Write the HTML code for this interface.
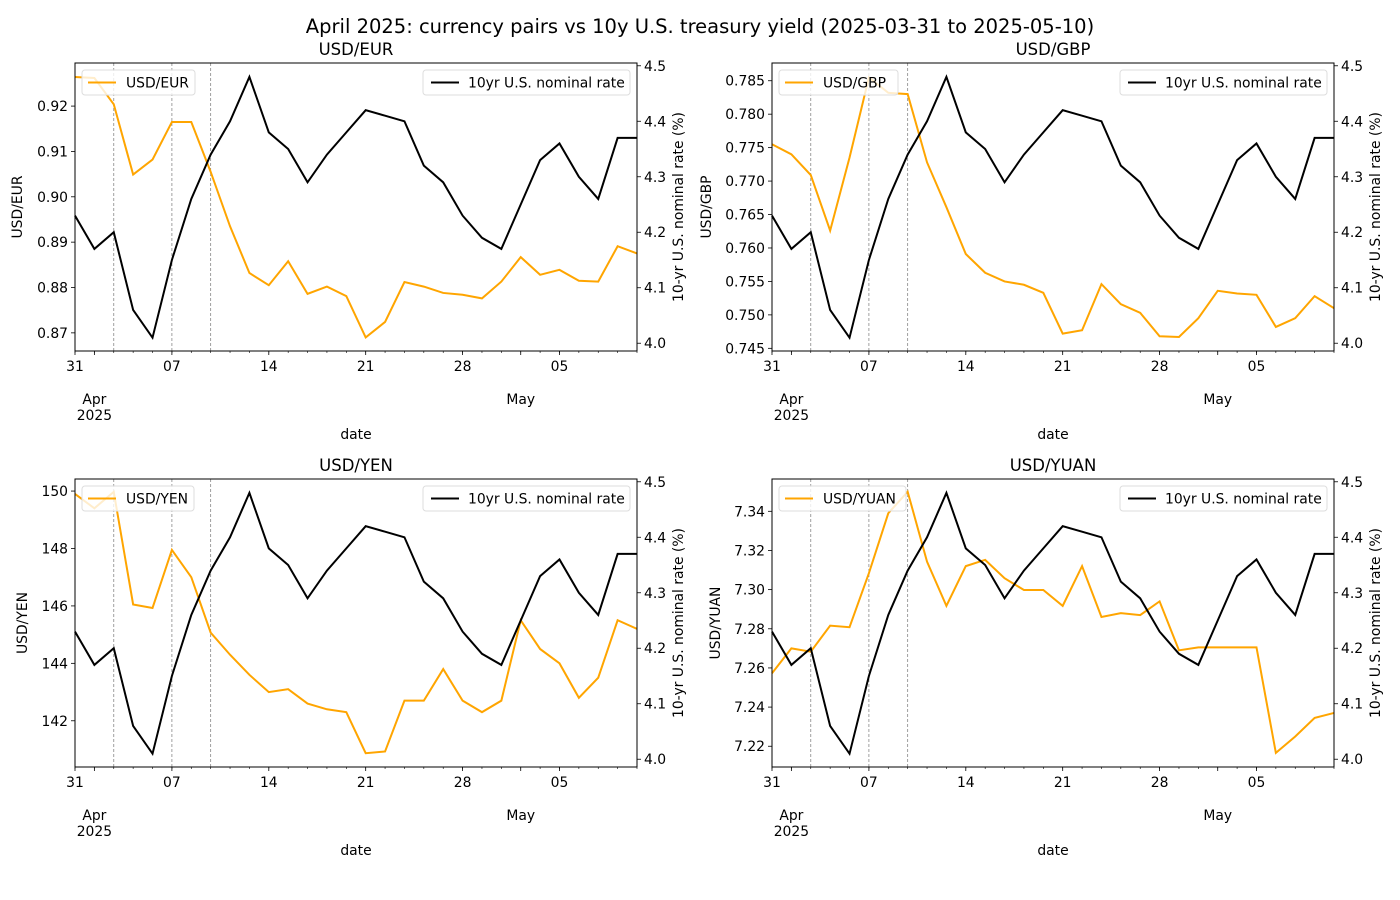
<!DOCTYPE html>
<html><head><meta charset="utf-8"><style>
body{margin:0;background:#fff;}
svg{display:block;font-family:"DejaVu Sans","Liberation Sans",sans-serif;}
</style></head><body>
<svg id="fig" width="1400" height="900" xmlns="http://www.w3.org/2000/svg">
<text x="700" y="33" font-size="19.5" text-anchor="middle">April 2025: currency pairs vs 10y U.S. treasury yield (2025-03-31 to 2025-05-10)</text>
</svg>
<script>
const dates = ["03-31","04-01","04-02","04-03","04-04","04-07","04-08","04-09","04-10","04-11","04-14","04-15","04-16","04-17","04-18","04-21","04-22","04-23","04-24","04-25","04-28","04-29","04-30","05-01","05-02","05-05","05-06","05-07","05-08","05-09"];
const rate10y = [4.23,4.17,4.20,4.06,4.01,4.15,4.26,4.34,4.40,4.48,4.38,4.35,4.29,4.34,4.38,4.42,4.41,4.40,4.32,4.29,4.23,4.19,4.17,4.25,4.33,4.36,4.30,4.26,4.37,4.37];
const usdEur = [0.9264,0.9262,0.9204,0.9049,0.9082,0.9165,0.9165,0.9055,0.8935,0.8832,0.8805,0.8858,0.8786,0.8802,0.8781,0.8690,0.8724,0.8812,0.8802,0.8788,0.8784,0.8776,0.8813,0.8867,0.8828,0.8839,0.8815,0.8813,0.8891,0.8875];
const usdGbp = [0.7755,0.7740,0.7709,0.7626,0.7735,0.7855,0.7832,0.7830,0.7728,0.7661,0.7591,0.7563,0.7550,0.7545,0.7533,0.7472,0.7477,0.7546,0.7516,0.7503,0.7468,0.7467,0.7495,0.7536,0.7532,0.7530,0.7482,0.7495,0.7528,0.7510];
const usdYen = [149.9,149.4,149.97,146.05,145.93,147.95,147.0,145.07,144.3,143.6,143.0,143.1,142.6,142.4,142.3,140.87,140.93,142.7,142.7,143.8,142.7,142.3,142.7,145.5,144.5,144.0,142.8,143.5,145.5,145.2];
const usdYuan = [7.2573,7.2700,7.2683,7.2816,7.2808,7.3084,7.339,7.350,7.3143,7.2917,7.312,7.3152,7.3058,7.2998,7.2998,7.2917,7.312,7.286,7.288,7.287,7.294,7.269,7.2705,7.2705,7.2705,7.2705,7.2166,7.225,7.2345,7.237];
const eventIdx = [2,5,7];
const majorTickIdx = [0,5,10,15,20,25];
const majorTickLabels = ["31","07","14","21","28","05"];
const monthTickIdx = [1,23];
const rateTicks = [4.0,4.1,4.2,4.3,4.4,4.5];
const eurTicks = [0.87,0.88,0.89,0.90,0.91,0.92];
const gbpTicks = [0.745,0.750,0.755,0.760,0.765,0.770,0.775,0.780,0.785];
const yenTicks = [142,144,146,148,150];
const yuanTicks = [7.22,7.24,7.26,7.28,7.30,7.32,7.34];

const NS="http://www.w3.org/2000/svg";
const svg=document.getElementById('fig');
function mk(tag,attrs,parent,text){const e=document.createElementNS(NS,tag);for(const k in attrs)e.setAttribute(k,attrs[k]);if(text!==undefined)e.textContent=text;(parent||svg).appendChild(e);return e;}

const FS=13.9;
const panels=[
 {name:'eur',title:'USD/EUR',label:'USD/EUR',data:usdEur,ticks:eurTicks,dec:2,ymin:0.8660,ymax:0.9295,L:75,T:63,ylabX:22,legW:113},
 {name:'gbp',title:'USD/GBP',label:'USD/GBP',data:usdGbp,ticks:gbpTicks,dec:3,ymin:0.7446,ymax:0.78765,L:772,T:63,ylabX:711,legW:119},
 {name:'yen',title:'USD/YEN',label:'USD/YEN',data:usdYen,ticks:yenTicks,dec:0,ymin:140.39,ymax:150.42,L:75,T:479,ylabX:27,legW:112},
 {name:'yuan',title:'USD/YUAN',label:'USD/YUAN',data:usdYuan,ticks:yuanTicks,dec:2,ymin:7.2094,ymax:7.3565,L:772,T:479,ylabX:720,legW:127}
];
const W=562,H=288,RMIN=3.986,RMAX=4.505;

panels.forEach(p=>{
 const L=p.L,T=p.T,R=L+W,B=T+H;
 const g=mk('g',{});
 
 
 const xs=i=>L+i*W/(dates.length-1);
 const ys=v=>B-(v-p.ymin)/(p.ymax-p.ymin)*H;
 const yr=v=>B-(v-RMIN)/(RMAX-RMIN)*H;
 const t=mk('text',{x:L+W/2,y:T-8,'font-size':16.5,'text-anchor':'middle'},g,p.title);
 
 
 eventIdx.forEach(i=>{
  const l=mk('line',{x1:xs(i),x2:xs(i),y1:T,y2:B,stroke:'#888','stroke-width':0.8,'stroke-dasharray':'3,2'},g);
  
  
 });
 const pts=a=>a.map((v,i)=>xs(i).toFixed(2)+','+(a===rate10y?yr(v):ys(v)).toFixed(2)).join(' ');
 const o=mk('polyline',{points:pts(p.data),fill:'none',stroke:'#FFA500','stroke-width':2},g);
 
 
 const k=mk('polyline',{points:pts(rate10y),fill:'none',stroke:'#000','stroke-width':2},g);
 
 
 const fr=mk('rect',{x:L,y:T,width:W,height:H,fill:'none',stroke:'#000','stroke-width':1},g);
 
 
 dates.forEach((d,i)=>{mk('line',{x1:xs(i),x2:xs(i),y1:B,y2:B+2,stroke:'#000','stroke-width':0.6},g);});
 majorTickIdx.forEach((i,j)=>{
  mk('line',{x1:xs(i),x2:xs(i),y1:B,y2:B+4,stroke:'#000','stroke-width':0.8},g);
  const tl=mk('text',{x:xs(i),y:B+20,'font-size':FS,'text-anchor':'middle'},g,majorTickLabels[j]);
  
  
 });
 monthTickIdx.forEach(i=>{mk('line',{x1:xs(i),x2:xs(i),y1:B,y2:B+4,stroke:'#000','stroke-width':0.8},g);});
 const m1=mk('text',{x:xs(1),y:B+53,'font-size':FS,'text-anchor':'middle'},g,'Apr');
 
 
 const m2=mk('text',{x:xs(1),y:B+69,'font-size':FS,'text-anchor':'middle'},g,'2025');
 
 
 const m3=mk('text',{x:xs(23),y:B+53,'font-size':FS,'text-anchor':'middle'},g,'May');
 
 
 const xl=mk('text',{x:L+W/2,y:B+88,'font-size':FS,'text-anchor':'middle'},g,'date');
 
 
 p.ticks.forEach(v=>{
  const y=ys(v);
  mk('line',{x1:L-4,x2:L,y1:y,y2:y,stroke:'#000','stroke-width':0.8},g);
  const tl=mk('text',{x:L-7,y:y+5,'font-size':FS,'text-anchor':'end'},g,v.toFixed(p.dec));
  
  
 });
 const yl=mk('text',{x:p.ylabX,y:T+H/2,'font-size':FS,'text-anchor':'middle',transform:'rotate(-90 '+p.ylabX+' '+(T+H/2)+')'},g,p.label);
 
 
 rateTicks.forEach(v=>{
  const y=yr(v);
  mk('line',{x1:R,x2:R+4,y1:y,y2:y,stroke:'#000','stroke-width':0.8},g);
  const tl=mk('text',{x:R+7,y:y+5,'font-size':FS},g,v.toFixed(1));
  
  
 });
 const rx=R+46;
 const rl=mk('text',{x:rx,y:T+H/2,'font-size':FS,'text-anchor':'middle',transform:'rotate(-90 '+rx+' '+(T+H/2)+')'},g,'10-yr U.S. nominal rate (%)');
 
 
 const lg=mk('g',{},g);
 
 
 mk('rect',{x:L+7,y:T+7,width:p.legW,height:25,rx:3,fill:'#fff','fill-opacity':0.8,stroke:'#ddd'},lg);
 mk('line',{x1:L+13,x2:L+41,y1:T+19.5,y2:T+19.5,stroke:'#FFA500','stroke-width':2},lg);
 mk('text',{x:L+51,y:T+24.5,'font-size':FS},lg,p.label);
 const lg2=mk('g',{},g);
 
 
 mk('rect',{x:R-214,y:T+7,width:207,height:25,rx:3,fill:'#fff','fill-opacity':0.8,stroke:'#ddd'},lg2);
 mk('line',{x1:R-206,x2:R-178,y1:T+19.5,y2:T+19.5,stroke:'#000','stroke-width':2},lg2);
 mk('text',{x:R-169,y:T+24.5,'font-size':FS},lg2,'10yr U.S. nominal rate');
});
</script>
</body></html>
